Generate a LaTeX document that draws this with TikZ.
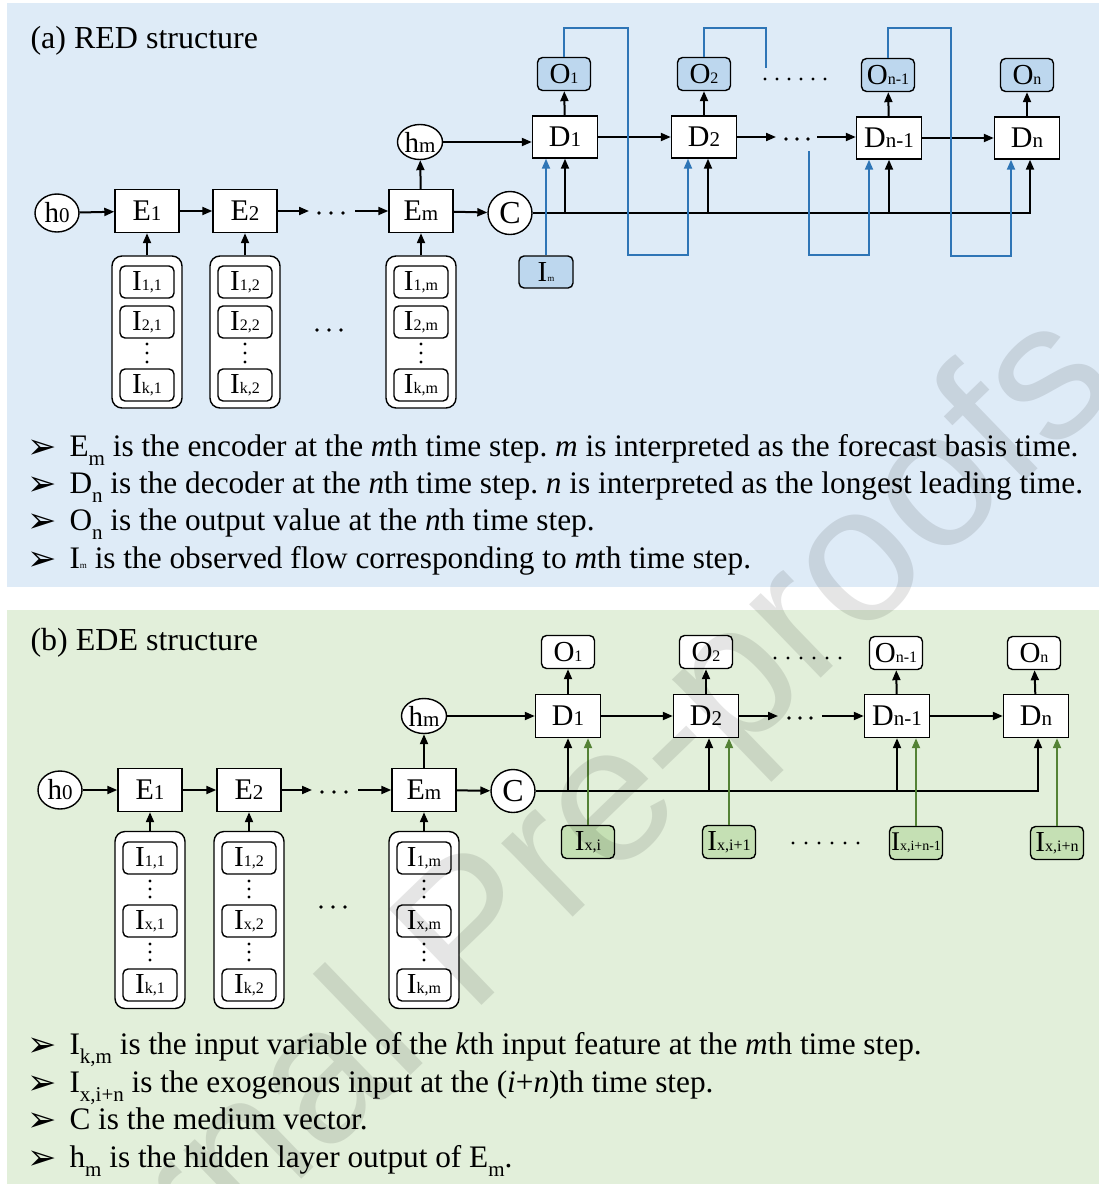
\documentclass[tikz,border=0pt]{standalone}
\usepackage{fontspec}
\setmainfont{Liberation Serif}
\newfontfamily\dejavu{DejaVu Sans}
\newfontfamily\wmfont{Liberation Sans}
\usetikzlibrary{arrows.meta,shapes.geometric}
\definecolor{bgA}{RGB}{222,235,247}
\definecolor{bgB}{RGB}{226,239,218}
\definecolor{fillA}{RGB}{189,215,238}
\definecolor{fillB}{RGB}{197,224,180}
\definecolor{lineA}{RGB}{46,117,182}
\definecolor{lineB}{RGB}{84,130,53}
\newcommand\smd[1]{{\fontsize{21}{21}\selectfont #1}}
\newcommand\sms[1]{{\fontsize{16}{16}\selectfont #1}}
\newcommand\smt[1]{{\fontsize{9}{9}\selectfont #1}}
\newcommand\sbs[1]{\raisebox{-0.3em}{\fontsize{21}{21}\selectfont #1}}
\frenchspacing
\begin{document}
\begin{tikzpicture}[x=1pt,y=-1pt,
  blk/.style={draw, line width=1.4pt, fill=white, minimum width=64pt, minimum height=43pt, inner sep=0pt, font=\fontsize{30}{30}\selectfont},
  circ/.style={ellipse, draw, line width=1.4pt, fill=white, minimum width=44pt, minimum height=38pt, inner sep=0pt, font=\fontsize{29}{29}\selectfont},
  ibox/.style={draw, rounded corners=5pt, line width=1.4pt, fill=white, minimum width=54pt, minimum height=32pt, inner sep=0pt, font=\fontsize{29}{29}\selectfont},
  obox/.style={ibox, minimum width=53pt, minimum height=33pt},
  stk/.style={draw, rounded corners=10pt, line width=1.4pt, fill=white, minimum width=70pt, inner sep=0pt},
  arr/.style={line width=2pt, -{Triangle[length=10pt,width=8pt]}},
  barr/.style={line width=2pt, color=lineA, -{Triangle[length=10pt,width=8pt]}},
  bln/.style={line width=2pt, color=lineA},
  garr/.style={line width=2pt, color=lineB, -{Triangle[length=10pt,width=8pt]}},
  txt/.style={anchor=base west, font=\fontsize{31.3}{31.3}\selectfont},
  bul/.style={anchor=base west, font=\dejavu\bfseries\fontsize{35}{35}\selectfont},
  ttl/.style={anchor=base west, font=\fontsize{32}{32}\selectfont}
]
\useasboundingbox (0,0) rectangle (1099,1184);
\fill[white] (0,0) rectangle (1099,1184);
\fill[bgA] (7,3) rectangle (1099,587);
\fill[bgB] (7,610) rectangle (1099,1184);

% ================= panel (a)
\node[ttl] (ta) at (27,48) {(a) RED structure};
\node[circ] (h0) at (57,213) {h\smd{0}};
\node[blk] (E1) at (147,211) {E\smd{1}};
\node[blk] (E2) at (245,211) {E\smd{2}};
\node[blk] (Em) at (421,211) {E\smd{m}};
\node[circ, minimum width=45pt, minimum height=35pt] (hm) at (420,142) {h\smd{m}};
\node[circ, minimum width=44pt, minimum height=43pt, font=\fontsize{32}{32}\selectfont] (C) at (510,213) {C};
\node[blk, minimum width=65pt, minimum height=42pt] (D1) at (565,137) {D\smd{1}};
\node[blk, minimum width=65pt, minimum height=42pt] (D2) at (704,137) {D\smd{2}};
\node[blk, minimum width=65pt, minimum height=42pt] (Dn1) at (889,138) {D\smd{n-1}};
\node[blk, minimum width=65pt, minimum height=42pt] (Dn) at (1027,138) {D\smd{n}};
\node[obox, fill=fillA] (O1) at (564,74) {O\sms{1}};
\node[obox, fill=fillA] (O2) at (704,74) {O\sms{2}};
\node[obox, fill=fillA] (On1) at (888,75) {O\sms{n-1}};
\node[obox, fill=fillA] (On) at (1027,75) {O\sms{n}};
\node[obox, fill=fillA, minimum width=54pt, minimum height=32pt] (Im) at (546,272) {I\smt{m}};

% stacks (a)
\foreach \n/\x/\s in {1/147/1, 2/245/2, m/421/m}{
  \node[stk, minimum height=152pt] (S\n) at (\x,332) {};
  \node[ibox] (Ia\n) at (\x,282) {I\sms{1,\s}};
  \node[ibox] (Ib\n) at (\x,322) {I\sms{2,\s}};
  \node[ibox] (Ic\n) at (\x,385) {I\sms{k,\s}};
  \fill (\x,344) circle (1.7pt) (\x,353) circle (1.7pt) (\x,362) circle (1.7pt);
}
\foreach \x in {317,329,341}{\fill (\x,330) circle (1.9pt);}

% arrows (a)
\draw[arr] (h0) -- (E1);
\draw[arr] (E1) -- (E2);
\coordinate (ea) at (309,211);
\coordinate (eb) at (355,211);
\draw[arr] (E2) -- (ea);
\foreach \x in {319,331,343}{\fill (\x,213) circle (1.9pt);}
\draw[arr] (eb) -- (Em);
\draw[arr] (Em) -- (C);
\draw[arr] (Em) -- (hm);
\draw[arr] (hm) -- (hm -| D1.west);
\draw[arr] (D1) -- (D2);
\coordinate (da) at (776,137);
\coordinate (db) at (817,137);
\draw[arr] (D2.east) -- (da);
\foreach \x in {786,797,808}{\fill (\x,139) circle (1.9pt);}
\draw[arr] (db) -- (Dn1.west |- db);
\draw[arr] (Dn1) -- (Dn);
\foreach \n in {1,2,m}{\draw[arr] (S\n.north) -- (E\n.south);}
\draw[arr] (D1) -- (O1);
\draw[arr] (D2) -- (O2);
\draw[arr] (Dn1) -- (On1);
\draw[arr] (Dn) -- (On);
\foreach \x in {765,777,789,801,813,825}{\fill (\x,79) circle (1.7pt);}
% C line
\draw[arr] (C.east) -| ([xshift=3pt]Dn.south);
\draw[arr] (D1.south |- C.east) -- (D1.south);
\draw[arr] ([xshift=4pt]D2.south |- C.east) -- ([xshift=4pt]D2.south);
\draw[arr] (Dn1.south |- C.east) -- (Dn1.south);
% blue lines
\draw[barr] (Im.north) -- ([xshift=-19pt]D1.south);
\coordinate (qa1) at (628,28);
\coordinate (qa2) at (688,255);
\draw[barr] (O1.north) |- (qa1) |- (qa2) -- ([xshift=-16pt]D2.south);
\coordinate (qb1) at (766,28);
\coordinate (qb2) at (766,68);
\draw[bln] (O2.north) |- (qb1) -- (qb2);
\coordinate (qc0) at (809,151);
\coordinate (qc1) at (869,255);
\draw[barr] (qc0) |- (qc1) -- ([xshift=-20pt]Dn1.south);
\coordinate (qd1) at (951,28);
\coordinate (qd2) at (1011,256);
\draw[barr] (On1.north) |- (qd1) |- (qd2) -- ([xshift=-16pt]Dn.south);

% bullets (a)
\foreach \y in {458,495,532,570}{\node[bul] at (24,\y) {➢};}
\node[txt] (la1) at (66,456) {E\sbs{m} is the encoder at the \textit{m}th time step. \textit{m} is interpreted as the forecast basis time.};
\node[txt] (la2) at (66,493) {D\sbs{n} is the decoder at the \textit{n}th time step. \textit{n} is interpreted as the longest leading time.};
\node[txt] (la3) at (66,530) {O\sbs{n} is the output value at the \textit{n}th time step.};
\node[txt] (la4) at (66,568) {I\smt{m} is the observed flow corresponding to \textit{m}th time step.};

% ================= panel (b)
\node[ttl] (tb) at (27,650) {(b) EDE structure};
\node[circ] (h0b) at (60,790) {h\smd{0}};
\node[blk] (E1b) at (150,790) {E\smd{1}};
\node[blk] (E2b) at (249,790) {E\smd{2}};
\node[blk] (Emb) at (424,790) {E\smd{m}};
\node[circ, minimum width=45pt, minimum height=35pt] (hmb) at (424,716) {h\smd{m}};
\node[circ, minimum width=44pt, minimum height=43pt, font=\fontsize{32}{32}\selectfont] (Cb) at (513,791) {C};
\node[blk, minimum width=65pt, minimum height=43pt] (D1b) at (568,716) {D\smd{1}};
\node[blk, minimum width=65pt, minimum height=43pt] (D2b) at (706,716) {D\smd{2}};
\node[blk, minimum width=65pt, minimum height=43pt] (Dn1b) at (897,716) {D\smd{n-1}};
\node[blk, minimum width=65pt, minimum height=43pt] (Dnb) at (1036,716) {D\smd{n}};
\node[obox] (O1b) at (568,652) {O\sms{1}};
\node[obox] (O2b) at (706,652) {O\sms{2}};
\node[obox] (On1b) at (896,653) {O\sms{n-1}};
\node[obox] (Onb) at (1034,653) {O\sms{n}};
\node[obox, fill=fillB] (X1) at (588,842) {I\sms{x,i}};
\node[obox, fill=fillB] (X2) at (729,842) {I\sms{x,i+1}};
\node[obox, fill=fillB, font=\fontsize{27}{27}\selectfont] (X3) at (916,843) {I{\fontsize{14}{14}\selectfont x,i+n-1}};
\node[obox, fill=fillB] (X4) at (1057,843) {I\sms{x,i+n}};

\foreach \n/\x/\s in {1/150/1, 2/249/2, m/424/m}{
  \node[stk, minimum height=177pt] (T\n) at (\x,920) {};
  \node[ibox] (Ja\n) at (\x,858) {I\sms{1,\s}};
  \node[ibox] (Jb\n) at (\x,921) {I\sms{x,\s}};
  \node[ibox] (Jc\n) at (\x,985) {I\sms{k,\s}};
  \fill (\x,881) circle (1.7pt) (\x,889) circle (1.7pt) (\x,897) circle (1.7pt);
  \fill (\x,944) circle (1.7pt) (\x,952) circle (1.7pt) (\x,960) circle (1.7pt);
}
\foreach \x in {321,333,345}{\fill (\x,907) circle (1.9pt);}

\draw[arr] (h0b) -- (E1b);
\draw[arr] (E1b) -- (E2b);
\coordinate (eab) at (312,790);
\coordinate (ebb) at (358,790);
\draw[arr] (E2b) -- (eab);
\foreach \x in {322,334,346}{\fill (\x,792) circle (1.9pt);}
\draw[arr] (ebb) -- (Emb);
\draw[arr] (Emb) -- (Cb);
\draw[arr] (Emb) -- (hmb);
\draw[arr] (hmb) -- (hmb -| D1b.west);
\draw[arr] (D1b) -- (D2b);
\coordinate (dab) at (778,716);
\coordinate (dbb) at (822,716);
\draw[arr] (D2b.east) -- (dab);
\foreach \x in {789,800,811}{\fill (\x,718) circle (1.9pt);}
\draw[arr] (dbb) -- (Dn1b.west |- dbb);
\draw[arr] (Dn1b) -- (Dnb);
\foreach \n in {1,2,m}{\draw[arr] (T\n.north) -- (E\n b.south);}
\draw[arr] (D1b) -- (O1b);
\draw[arr] (D2b) -- (O2b);
\draw[arr] (Dn1b) -- (On1b);
\draw[arr] (Dnb) -- (Onb);
\foreach \x in {775,788,801,814,827,840}{\fill (\x,658) circle (1.7pt);}
\foreach \x in {793,806,819,832,845,858}{\fill (\x,843) circle (1.7pt);}
\draw[arr] (Cb.east) -| ([xshift=2pt]Dnb.south);
\draw[arr] (D1b.south |- Cb.east) -- (D1b.south);
\draw[arr] ([xshift=3pt]D2b.south |- Cb.east) -- ([xshift=3pt]D2b.south);
\draw[arr] (Dn1b.south |- Cb.east) -- (Dn1b.south);
\draw[garr] (X1.north) -- (X1.north |- D1b.south);
\draw[garr] (X2.north) -- (X2.north |- D2b.south);
\draw[garr] (X3.north) -- (X3.north |- Dn1b.south);
\draw[garr] (X4.north) -- (X4.north |- Dnb.south);

\foreach \y in {1056,1094,1131,1169}{\node[bul] at (24,\y) {➢};}
\node[txt] (lb1) at (66,1054) {I\sbs{k,m} is the input variable of the \textit{k}th input feature at the \textit{m}th time step.};
\node[txt] (lb2) at (66,1092) {I\sbs{x,i+n} is the exogenous input at the (\textit{i}+\textit{n})th time step.};
\node[txt] (lb3) at (66,1129) {C is the medium vector.};
\node[txt] (lb4) at (66,1167) {h\sbs{m} is the hidden layer output of E\sbs{m}.};

% watermark
\node[rotate=44, anchor=base east, font=\wmfont\fontsize{194}{194}\selectfont, text=black, opacity=0.1] (wm) at (1125,385) {Journal Pre-proofs};
\end{tikzpicture}
\end{document}
